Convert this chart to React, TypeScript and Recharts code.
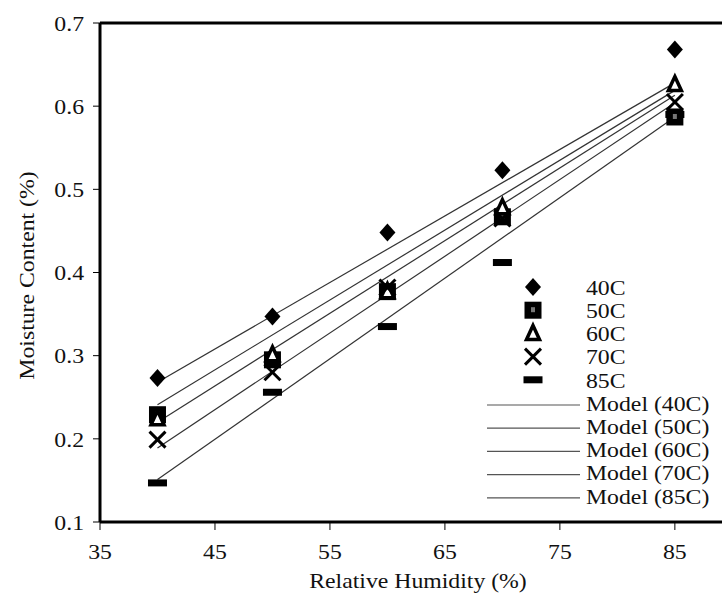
import React from 'react';
import { ComposedChart, Scatter, Line, XAxis, YAxis, ReferenceLine, Legend } from 'recharts';

// relative humidity levels (%)
const rh = [40, 50, 60, 70, 85];

// measured moisture content (%) per temperature
const mc40 = [0.273, 0.347, 0.448, 0.523, 0.668];
const mc50 = [0.229, 0.295, 0.377, 0.467, 0.587];
const mc60 = [0.224, 0.301, 0.377, 0.478, 0.626];
const mc70 = [0.199, 0.28, 0.382, 0.465, 0.605];
const mc85 = [0.147, 0.256, 0.335, 0.412, 0.59];

// model lines (end points)
const modelRh = [40, 85];
const model40 = [0.268, 0.628];
const model50 = [0.241, 0.619];
const model60 = [0.22, 0.613];
const model70 = [0.189, 0.604];
const model85 = [0.151, 0.587];

const xTicks = [35, 45, 55, 65, 75, 85];
const yTicks = [0.1, 0.2, 0.3, 0.4, 0.5, 0.6, 0.7];

const legendOrder = ['40C', '50C', '60C', '70C', '85C', 'Model (40C)', 'Model (50C)', 'Model (60C)', 'Model (70C)', 'Model (85C)'];

const FONT = '"Liberation Serif", "Times New Roman", serif';
const FS = 22;
const STRETCH = 1.08;
const LINE_COLOR = '#333';

const toPoints = (xs: number[], ys: number[]) => xs.map((x, i) => ({ x, y: ys[i] }));

type Kind = 'diamond' | 'square' | 'triangle' | 'cross' | 'dash';

const Marker = ({ kind, cx, cy }: { kind: Kind; cx: number; cy: number }) => {
  switch (kind) {
    case 'diamond':
      return <polygon points={`${cx},${cy - 9} ${cx + 8},${cy} ${cx},${cy + 9} ${cx - 8},${cy}`} fill="#000" />;
    case 'square':
      return (
        <g>
          <rect x={cx - 8.5} y={cy - 8.5} width={17} height={17} fill="#000" />
          <rect x={cx - 2} y={cy - 3} width={4} height={5} fill="#777" />
        </g>
      );
    case 'triangle':
      return (
        <polygon
          points={`${cx},${cy - 8} ${cx + 6.5},${cy + 6} ${cx - 6.5},${cy + 6}`}
          fill="#fff"
          stroke="#000"
          strokeWidth={3.5}
          strokeLinejoin="miter"
        />
      );
    case 'cross':
      return (
        <g stroke="#000" strokeWidth={3}>
          <line x1={cx - 8} y1={cy - 8} x2={cx + 8} y2={cy + 8} />
          <line x1={cx - 8} y1={cy + 8} x2={cx + 8} y2={cy - 8} />
        </g>
      );
    default:
      return <rect x={cx - 9.5} y={cy - 3.5} width={19} height={7} fill="#000" />;
  }
};

const markerOf: Record<string, Kind> = {
  '40C': 'diamond',
  '50C': 'square',
  '60C': 'triangle',
  '70C': 'cross',
  '85C': 'dash',
};

const shape = (kind: Kind) => (props: any) => <Marker kind={kind} cx={props.cx} cy={props.cy} />;

const YTick = ({ x, y, payload }: any) => (
  <text
    transform={`translate(${x},${y}) scale(${STRETCH},1)`}
    textAnchor="end"
    dy="0.35em"
    fontFamily={FONT}
    fontSize={FS}
    fill="#111"
  >
    {Number(payload.value).toFixed(1)}
  </text>
);

const XTick = ({ x, y, payload }: any) => (
  <text
    transform={`translate(${x},${y}) scale(${STRETCH},1)`}
    textAnchor="middle"
    dy="0.68em"
    fontFamily={FONT}
    fontSize={FS}
    fill="#111"
  >
    {payload.value}
  </text>
);

const LegendContent = ({ payload }: any) => {
  const items = [...(payload || [])].sort(
    (a: any, b: any) => legendOrder.indexOf(a.value) - legendOrder.indexOf(b.value)
  );
  return (
    <svg width={242} height={240} style={{ display: 'block' }}>
      {items.map((item: any, i: number) => {
        const cy = 17 + i * 23.2;
        const kind = markerOf[item.value];
        return (
          <g key={item.value}>
            {kind ? (
              <Marker kind={kind} cx={53} cy={cy} />
            ) : (
              <line x1={7} x2={100} y1={cy + 2} y2={cy + 2} stroke="#555" strokeWidth={1.2} />
            )}
            <text
              transform={`translate(106,${cy}) scale(${STRETCH},1)`}
              dy="0.35em"
              fontFamily={FONT}
              fontSize={FS}
              fill="#111"
            >
              {item.value}
            </text>
          </g>
        );
      })}
    </svg>
  );
};

export default function App() {
  return (
    <div style={{ position: 'absolute', left: 0, top: 0, background: '#fff' }}>
      <ComposedChart width={722} height={596} margin={{ top: 23, right: 0, bottom: 0, left: 0 }}>
        <XAxis
          type="number"
          dataKey="x"
          domain={[35, 89.1]}
          ticks={xTicks}
          allowDataOverflow
          height={74}
          axisLine={{ stroke: '#000', strokeWidth: 3 }}
          tickLine={{ stroke: '#000', strokeWidth: 1 }}
          tickSize={8}
          tickMargin={14}
          tick={<XTick />}
          label={({ viewBox }: any) => (
            <text
              transform={`translate(${viewBox.x + 318},${viewBox.y + 66}) scale(${STRETCH},1)`}
              textAnchor="middle"
              fontFamily={FONT}
              fontSize={FS}
              fill="#111"
            >
              Relative Humidity (%)
            </text>
          )}
        />
        <YAxis
          type="number"
          dataKey="y"
          domain={[0.1, 0.7]}
          ticks={yTicks}
          allowDataOverflow
          width={100}
          axisLine={{ stroke: '#000', strokeWidth: 3 }}
          tickLine={{ stroke: '#000', strokeWidth: 1 }}
          tickSize={7}
          tickMargin={9}
          tick={<YTick />}
          label={({ viewBox }: any) => (
            <text
              transform={`translate(${viewBox.x + 26},${viewBox.y + viewBox.height / 2 + 3}) rotate(-90) scale(${STRETCH},1)`}
              textAnchor="middle"
              dy="0.35em"
              fontFamily={FONT}
              fontSize={FS}
              fill="#111"
            >
              Moisture Content (%)
            </text>
          )}
        />
        <ReferenceLine y={0.7} stroke="#000" strokeWidth={3} />

        <Line data={toPoints(modelRh, model40)} dataKey="y" name="Model (40C)" type="linear" stroke={LINE_COLOR} strokeWidth={1.2} dot={false} isAnimationActive={false} />
        <Line data={toPoints(modelRh, model50)} dataKey="y" name="Model (50C)" type="linear" stroke={LINE_COLOR} strokeWidth={1.2} dot={false} isAnimationActive={false} />
        <Line data={toPoints(modelRh, model60)} dataKey="y" name="Model (60C)" type="linear" stroke={LINE_COLOR} strokeWidth={1.2} dot={false} isAnimationActive={false} />
        <Line data={toPoints(modelRh, model70)} dataKey="y" name="Model (70C)" type="linear" stroke={LINE_COLOR} strokeWidth={1.2} dot={false} isAnimationActive={false} />
        <Line data={toPoints(modelRh, model85)} dataKey="y" name="Model (85C)" type="linear" stroke={LINE_COLOR} strokeWidth={1.2} dot={false} isAnimationActive={false} />

        <Scatter data={toPoints(rh, mc85)} dataKey="y" name="85C" shape={shape('dash')} isAnimationActive={false} />
        <Scatter data={toPoints(rh, mc50)} dataKey="y" name="50C" shape={shape('square')} isAnimationActive={false} />
        <Scatter data={toPoints(rh, mc60)} dataKey="y" name="60C" shape={shape('triangle')} isAnimationActive={false} />
        <Scatter data={toPoints(rh, mc70)} dataKey="y" name="70C" shape={shape('cross')} isAnimationActive={false} />
        <Scatter data={toPoints(rh, mc40)} dataKey="y" name="40C" shape={shape('diamond')} isAnimationActive={false} />

        <Legend
          layout="vertical"
          align="center"
          verticalAlign="middle"
          wrapperStyle={{ left: 480, top: 270, width: 242 }}
          content={<LegendContent />}
        />
      </ComposedChart>
    </div>
  );
}
